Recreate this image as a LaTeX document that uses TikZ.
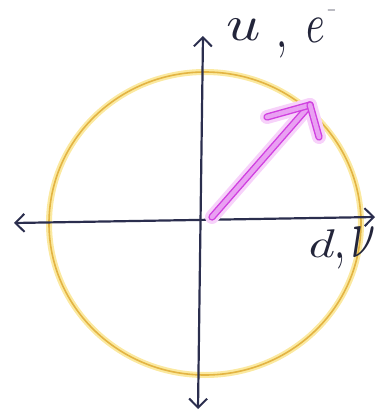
\documentclass[tikz,border=0pt]{standalone}
\usepackage{graphicx}
\usetikzlibrary{arrows.meta}
\definecolor{axisc}{HTML}{2B2E4E}
\definecolor{labc}{HTML}{23253A}
\definecolor{circglow}{HTML}{FBE9A0}
\definecolor{circc}{HTML}{E3B443}
\definecolor{vecglow}{HTML}{F7D2FA}
\definecolor{vecc}{HTML}{D040E0}
\definecolor{vecin}{HTML}{E9A0F2}
\tikzset{
  axis/.style={draw=axisc, line width=2.2pt, {Straight Barb[length=9pt,width=18pt,line width=2pt]}-{Straight Barb[length=9pt,width=18pt,line width=2pt]}},
  lab/.style={text=labc, inner sep=0pt},
  vecglowline/.style={vecglow, line width=14pt, line cap=round, line join=round},
  vecline/.style={draw=vecc, line width=1.4pt, double=vecin, double distance=4.5pt, line cap=round},
}
\begin{document}
\begin{tikzpicture}[x=1pt,y=-1pt]
\useasboundingbox (0,0) rectangle (377,413);
% circle
\draw[circglow, line width=6pt] (205,223.5) ellipse [x radius=156, y radius=151.5];
\draw[circc, line width=1.6pt] (205,223.5) ellipse [x radius=156, y radius=151.5];
% axes
\coordinate (top) at (203,36);
\coordinate (bot) at (198,409);
\coordinate (left) at (14,223);
\coordinate (right) at (375,217);
\draw[axis] (bot) -- (top);
\draw[axis] (left) -- (right);
% vector
\coordinate (S) at (212,217);
\coordinate (V) at (310,105);
\coordinate (B1) at (267,117);
\coordinate (B2) at (319,137);
\draw[vecglowline] (S) -- (V);
\draw[vecglowline] (B1) -- (V) -- (B2);
\draw[vecline] (S) -- (V);
\draw[vecline] (B1) -- (V);
\draw[vecline] (V) -- (B2);
% labels
\node[lab, anchor=base] (u) at (244,40) {\scalebox{6}[5]{$u$}};
\node[lab] (c1) at (282,50) {\scalebox{4}[5.5]{$,$}};
\node[lab, anchor=base west] (e) at (306,42) {\scalebox{4}[5.6]{$e$}\hspace{2pt}\raisebox{28pt}{\scalebox{1.2}[1.6]{$-$}}};
\node[lab, anchor=base] (d) at (322,257) {\scalebox{5}[4]{$d$}};
\node[lab] (c2) at (340,261) {\scalebox{4}[5.5]{$,$}};
\node[lab, anchor=base] (nu) at (363,257) {\scalebox{4.3}[7]{$\nu$}};
\end{tikzpicture}
\end{document}
